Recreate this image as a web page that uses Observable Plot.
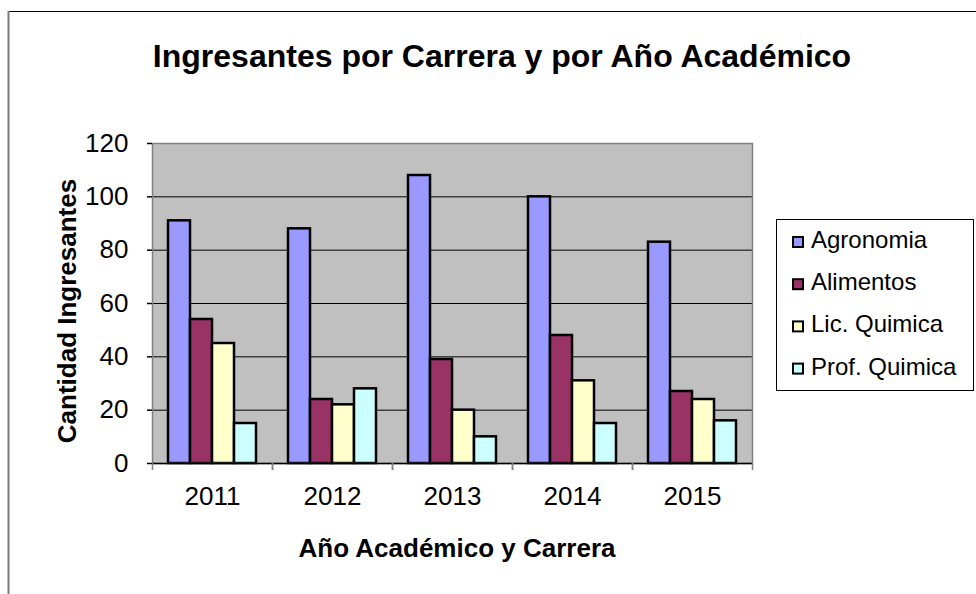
<!DOCTYPE html>
<html>
<head>
<meta charset="utf-8">
<script src="https://cdn.jsdelivr.net/npm/d3@7"></script>
<script src="https://cdn.jsdelivr.net/npm/@observablehq/plot@0.6"></script>
<style>
  html, body { margin: 0; padding: 0; background: #fff; }
  #chart { position: relative; width: 976px; height: 594px; overflow: hidden; background: #fff; }
  #chart svg { position: absolute; left: 0; top: 0; }
</style>
</head>
<body>
<div id="chart"></div>
<script>
// ---- data ----
const years = ["2011", "2012", "2013", "2014", "2015"];
const series = ["Agronomia", "Alimentos", "Lic. Quimica", "Prof. Quimica"];
const agronomia   = [91, 88, 108, 100, 83];
const alimentos   = [54, 24, 39, 48, 27];
const licQuimica  = [45, 22, 20, 31, 24];
const profQuimica = [15, 28, 10, 15, 16];
const yTicks = [0, 20, 40, 60, 80, 100, 120];
const colors = ["#9999FF", "#993366", "#FFFFCC", "#CCFFFF"];
const titleText = "Ingresantes por Carrera y por Año Académico";
const xTitle = "Año Académico y Carrera";
const yTitle = "Cantidad Ingresantes";

const seriesValues = [agronomia, alimentos, licQuimica, profQuimica];
const rows = series.map((s, i) => years.map((y, j) => ({year: y, series: s, value: seriesValues[i][j]})));

const font = "'Liberation Sans', Arial, sans-serif";
const W = 976, H = 594;
const mL = 152, mR = 224, mT = 143, mB = 131;
const band = (W - mL - mR) / years.length;   // 120
const gap = 16, barW = (band - 2 * gap) / series.length;

const barMarks = rows.map((data, i) => Plot.barY(data, {
  x: "year", y: "value", fill: "series",
  stroke: "#000", strokeWidth: 2.5,
  insetLeft: gap + barW * i,
  insetRight: band - gap - barW * (i + 1)
}));

const plot = Plot.plot({
  width: W, height: H,
  marginLeft: mL, marginRight: mR, marginTop: mT, marginBottom: mB,
  style: {fontFamily: font, fontSize: "26px", color: "#000", background: "transparent", overflow: "visible"},
  x: {type: "band", domain: years, padding: 0, label: null},
  y: {domain: [0, 120], label: null},
  color: {domain: series, range: colors},
  marks: [
    Plot.frame({fill: "#C0C0C0", stroke: null}),
    Plot.ruleY(yTicks.filter(t => t > 0 && t < 120), {stroke: "#000", strokeWidth: 1}),
    ...barMarks,
    Plot.frame({stroke: "#808080", strokeWidth: 1.5, fill: null}),
    Plot.ruleY([0], {stroke: "#000", strokeWidth: 1.5}),
    Plot.axisY({ticks: yTicks, tickSize: 5, tickPadding: 19, fontSize: 26, label: null, stroke: "#000", strokeWidth: 1.5}),
    Plot.axisX({tickSize: 0, tickPadding: 23, fontSize: 26, label: null}),
    Plot.axisX({tickSize: 7, dx: -band / 2, tickFormat: () => "", label: null, stroke: "#808080", strokeWidth: 1.5}),
    Plot.axisX({tickSize: 7, dx: band / 2, tickFormat: () => "", label: null, stroke: "#808080", strokeWidth: 1.5})
  ]
});

document.getElementById("chart").appendChild(plot);

const svg = d3.select(plot);

// chart-area border (top and left visible)
svg.append("line").attr("x1", 8).attr("y1", 11.5).attr("x2", W).attr("y2", 11.5)
  .attr("stroke", "#000").attr("stroke-width", 1);
svg.append("line").attr("x1", 8.5).attr("y1", 11).attr("x2", 8.5).attr("y2", H)
  .attr("stroke", "#7a7a7a").attr("stroke-width", 2);

// title
svg.append("text").attr("x", 502).attr("y", 67).attr("text-anchor", "middle")
  .attr("font-family", font).attr("font-size", 32).attr("font-weight", "bold")
  .attr("fill", "#000").text(titleText);

// x axis title
svg.append("text").attr("x", 457).attr("y", 557).attr("text-anchor", "middle")
  .attr("font-family", font).attr("font-size", 26).attr("font-weight", "bold")
  .attr("fill", "#000").text(xTitle);

// y axis title
svg.append("text").attr("transform", "translate(76,311) rotate(-90)").attr("text-anchor", "middle")
  .attr("font-family", font).attr("font-size", 26).attr("font-weight", "bold")
  .attr("fill", "#000").text(yTitle);

// legend
const lg = svg.append("g").attr("transform", "translate(776,219)");
lg.append("rect").attr("x", 0.5).attr("y", 0.5).attr("width", 197).attr("height", 171)
  .attr("fill", "#fff").attr("stroke", "#000").attr("stroke-width", 1);
const color = plot.scale("color");
series.forEach((s, i) => {
  const base = 29 + i * 42.2;
  lg.append("rect").attr("x", 17).attr("y", base - 11).attr("width", 10).attr("height", 10)
    .attr("fill", color.apply(s)).attr("stroke", "#000").attr("stroke-width", 2);
  lg.append("text").attr("x", 35).attr("y", base).attr("text-anchor", "start")
    .attr("font-family", font).attr("font-size", 24).attr("fill", "#000").text(s);
});
</script>
</body>
</html>
